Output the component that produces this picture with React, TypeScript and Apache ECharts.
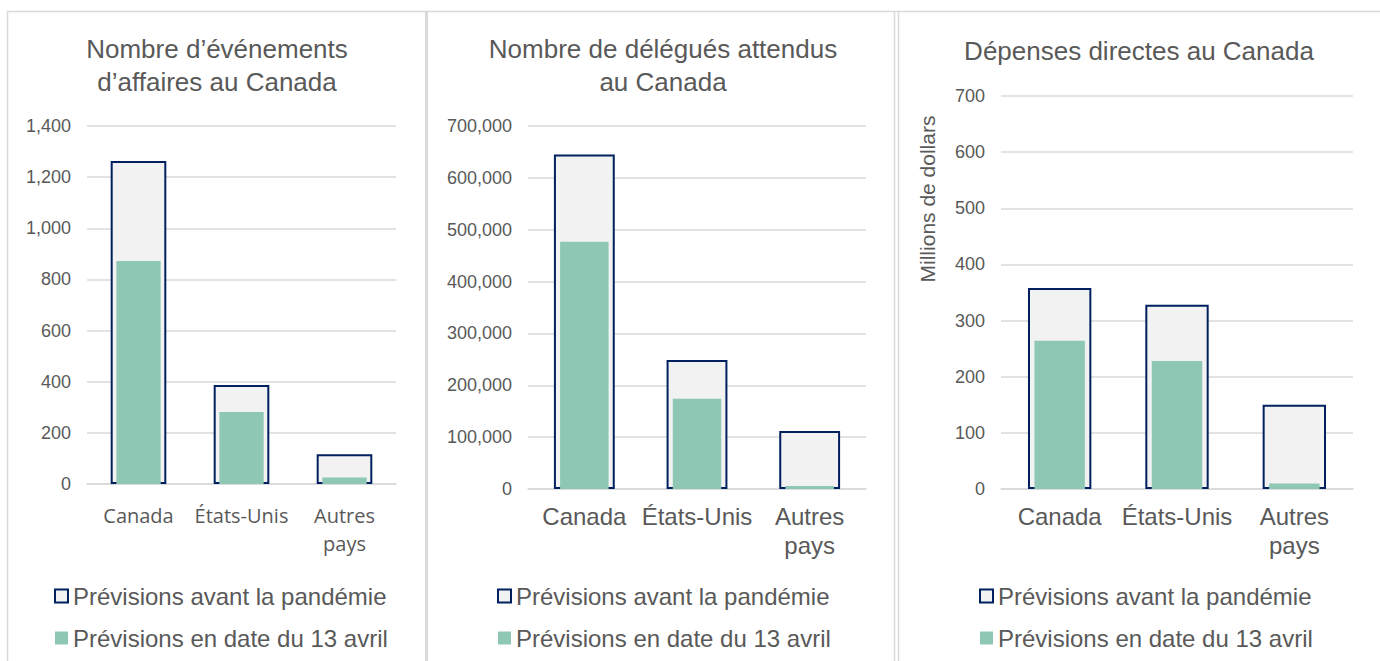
import React, { useEffect, useRef } from "react";
import * as echarts from "echarts";

// ---- Data ----
const categories = ["Canada", "États-Unis", "Autres pays"];
const seriesNames = ["Prévisions avant la pandémie", "Prévisions en date du 13 avril"];

const eventsBefore = [1263, 387, 116];
const eventsApril = [872, 282, 25];

const delegatesBefore = [645000, 249000, 112000];
const delegatesApril = [477000, 174000, 6000];

const spendingBefore = [358, 328, 150];
const spendingApril = [264, 228, 10];

const titles = [
  "Nombre d’événements\nd’affaires au Canada",
  "Nombre de délégués attendus\nau Canada",
  "Dépenses directes au Canada",
];
const axisMax = [1400, 700000, 700];
const axisInterval = [200, 100000, 100];
const spendingAxisName = "Millions de dollars";

// ---- Styles ----
const FONT = "'Liberation Sans', Arial, sans-serif";
const TEXT = "#595959";
const GRIDC = "#d9d9d9";
const NAVY = "#002060";
const LIGHT = "#f2f2f2";
const GREEN = "#8ec8b4";

const layout = [
  { grid: { left: 87, top: 126, width: 309, height: 358 }, titleX: 217, titleTop: 32, catFont: "'Open Sans', sans-serif", catSize: 20, catLH: 28, catMargin: 17, legendLeft: 54 },
  { grid: { left: 528, top: 126, width: 338, height: 363 }, titleX: 663, titleTop: 32, catFont: FONT, catSize: 24, catLH: 29, catMargin: 13, legendLeft: 497 },
  { grid: { left: 1001, top: 96, width: 352, height: 393 }, titleX: 1139, titleTop: 34, catFont: FONT, catSize: 24, catLH: 29, catMargin: 13, legendLeft: 979 },
];

function buildOption() {
  const befores = [eventsBefore, delegatesBefore, spendingBefore];
  const aprils = [eventsApril, delegatesApril, spendingApril];
  const grid: any[] = [];
  const xAxis: any[] = [];
  const yAxis: any[] = [];
  const series: any[] = [];
  const legend: any[] = [];
  const title: any[] = [];

  layout.forEach((p, i) => {
    grid.push({ ...p.grid, containLabel: false });
    xAxis.push({
      type: "category",
      gridIndex: i,
      data: categories,
      axisTick: { show: false },
      axisLine: { lineStyle: { color: GRIDC, width: 1.5 } },
      axisLabel: {
        interval: 0,
        color: TEXT,
        fontSize: p.catSize,
        fontFamily: p.catFont,
        lineHeight: p.catLH,
        margin: p.catMargin,
        formatter: (v: string) => v.replace(" ", "\n"),
      },
    });
    xAxis.push({ type: "category", gridIndex: i, data: categories, show: false });
    yAxis.push({
      type: "value",
      gridIndex: i,
      min: 0,
      max: axisMax[i],
      interval: axisInterval[i],
      axisLine: { show: false },
      axisTick: { show: false },
      splitLine: { lineStyle: { color: GRIDC, width: 1.5 } },
      axisLabel: {
        color: TEXT,
        fontSize: 18,
        fontFamily: FONT,
        margin: 16,
        formatter: (v: number) => v.toLocaleString("en-US"),
      },
    });
    series.push({
      type: "bar",
      name: seriesNames[0],
      xAxisIndex: 2 * i,
      yAxisIndex: i,
      data: befores[i],
      barWidth: "54%",
      itemStyle: { color: LIGHT, borderColor: NAVY, borderWidth: 2 },
      z: 2,
    });
    series.push({
      type: "bar",
      name: seriesNames[1],
      xAxisIndex: 2 * i + 1,
      yAxisIndex: i,
      data: aprils[i],
      barWidth: "43%",
      itemStyle: { color: GREEN },
      z: 3,
    });
    legend.push({
      orient: "vertical",
      left: p.legendLeft,
      top: 582,
      itemWidth: 13,
      itemHeight: 13,
      itemGap: 14,
      padding: 0,
      selectedMode: false,
      textStyle: { fontSize: 24, color: TEXT, fontFamily: FONT, lineHeight: 28 },
      data: [
        { name: seriesNames[0], icon: "rect", itemStyle: { color: LIGHT, borderColor: NAVY, borderWidth: 2 } },
        { name: seriesNames[1], icon: "rect", itemStyle: { color: GREEN, borderWidth: 0 } },
      ],
    });
    title.push({
      text: titles[i],
      left: p.titleX,
      top: p.titleTop,
      textAlign: "center",
      padding: 0,
      textStyle: { fontSize: 26, fontWeight: "normal", color: TEXT, fontFamily: FONT, lineHeight: 33 },
    });
  });

  const graphic: any[] = [
    { type: "line", shape: { x1: 7, y1: 11.5, x2: 1380, y2: 11.5 }, style: { stroke: GRIDC, lineWidth: 1.5 }, silent: true },
    { type: "line", shape: { x1: 7.5, y1: 11, x2: 7.5, y2: 661 }, style: { stroke: GRIDC, lineWidth: 1.5 }, silent: true },
    { type: "rect", shape: { x: 425, y: 11, width: 3, height: 650 }, style: { fill: GRIDC }, silent: true },
    { type: "line", shape: { x1: 894.5, y1: 11, x2: 894.5, y2: 661 }, style: { stroke: GRIDC, lineWidth: 1.5 }, silent: true },
    { type: "line", shape: { x1: 898.5, y1: 11, x2: 898.5, y2: 661 }, style: { stroke: GRIDC, lineWidth: 1.5 }, silent: true },
    {
      type: "text",
      x: 927,
      y: 199,
      rotation: Math.PI / 2,
      style: { text: spendingAxisName, fontSize: 21, fill: TEXT, fontFamily: FONT, align: "center", verticalAlign: "middle" },
      silent: true,
    },
  ];

  return { animation: false, backgroundColor: "#ffffff", grid, xAxis, yAxis, series, legend, title, graphic };
}

export default function App() {
  const ref = useRef<HTMLDivElement>(null);
  useEffect(() => {
    if (!ref.current) return;
    const chart = echarts.init(ref.current, undefined, { renderer: "svg" });
    chart.setOption(buildOption());
    return () => chart.dispose();
  }, []);
  return <div ref={ref} style={{ position: "absolute", left: 0, top: 0, width: 1380, height: 661 }} />;
}
